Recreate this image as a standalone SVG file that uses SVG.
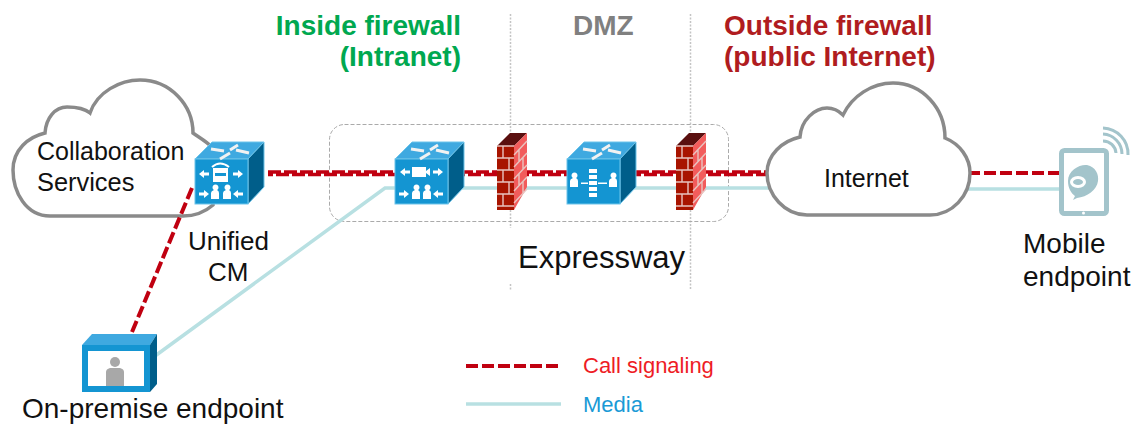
<svg xmlns="http://www.w3.org/2000/svg" width="1136" height="424" viewBox="0 0 1136 424">
<style>
text{font-family:"Liberation Sans",Arial,sans-serif;fill:#111;font-size:26px}
.h{font-weight:bold;font-size:28px}
.cloud{fill:#fff;stroke:#8a8a8a;stroke-width:3.5}
.face{fill:#1495d2;stroke:#6cc4ea;stroke-width:1}
.top{fill:#3fa9e0;stroke:#6cc4ea;stroke-width:1}
.side{fill:#005e8a;stroke:#6cc4ea;stroke-width:1}
.w{fill:#fff}
.wl{stroke:#fff;stroke-width:2;fill:none}
.ta{stroke:#f2f2f2;stroke-width:3;fill:none}
.sig{fill:none;stroke:#c00010;stroke-width:4;stroke-dasharray:12 4}
.med{fill:none;stroke:#b8e0e2;stroke-width:3.5}
.bar{fill:none;stroke:#c00010;stroke-width:3.5;stroke-dasharray:13 3}
.tab{fill:none;stroke:#a3c4cb}
.v{stroke:#c4c4c4;stroke-width:1.5;stroke-dasharray:2 1.5;fill:none}
</style>
<defs>
<g id="cube">
<path class="top" d="M0 17 17 0H69L53 17Z"/>
<path class="side" d="M53 17 69 0V45L53 62Z"/>
<rect class="face" y="17" width="53" height="45"/>
<path class="ta" d="M16 7 29 9M35 8 43 3M41 8 54 11M25 17 35 11"/>
</g>
<g id="wall">
<path fill="#5a0f0f" d="M0 13 13 0H30L17 13Z"/>
<path fill="#f25c5c" d="M17 13 30 0V54L17 77Z"/>
<rect fill="#a81400" y="13" width="17" height="64"/>
<path stroke="#e8c4c0" stroke-width="1.4" fill="none" d="M0 13H17M0 25H17M0 37H17M0 49H17M0 61H17M0 73H17M6 13V25M12 25V37M6 37V49M12 49V61M6 61V73M17 22 30 8M17 34 30 20M17 46 30 32M17 58 30 44M17 70 30 56M22 16V28M26 24V36M22 40V52M26 48V60"/>
</g>
<path id="ar" class="w" d="M0 0 5-4V-1.500H10V1.500H5V4Z"/>
<path id="person" class="w" d="M3 5A3 3 0 1 1 6 5Q8 6 8 8V14H0V8Q0 6 3 5Z"/>
</defs>
<g id="boundaries">
<path class="v" d="M510.500 14V228M510.500 284V290M690.500 14V290"/>
<rect x="329.500" y="124.500" width="399" height="97" rx="15" fill="none" stroke="#aaa" stroke-width="1" stroke-dasharray="4 2"/>
</g>
<g id="connectors">
<path class="med" d="M155 356 385 188H770M968 189H1060"/>
<path class="bar" d="M268 172H770"/>
<path class="bar" stroke-dashoffset="8" d="M268 174.500H770"/>
<path class="sig" d="M968 173H1060"/>
</g>
<g id="collaboration-services">
<path class="cloud" d="M50 216C26 216 13 192 13 170 13 150 28 137 45 133 46 118 55 107 67 107 76 107 84 108 90 113 97 92 120 80 140 80 170 80 193 105 193 133 200 138 206 141 213 148V205C205 212 195 216 183 216Z"/>
<text x="37" y="160" style="font-size:25px">Collaboration</text>
<text x="37" y="191" style="font-size:25.400px">Services</text>
</g>
<g id="unified-cm">
<use href="#cube" x="195" y="142"/>
<use href="#ar" x="199" y="174"/><use href="#ar" transform="translate(243 174) scale(-1 1)"/>
<rect class="w" x="213" y="168" width="15" height="14"/>
<rect x="215" y="173" width="11" height="3" fill="#1495d2"/>
<path class="wl" d="M212 167Q220 160 229 167"/>
<use href="#ar" transform="translate(209 194) scale(-1 1)"/><use href="#ar" x="233" y="194"/>
<use href="#person" x="211" y="185"/><use href="#person" x="223" y="185"/>
<text x="188" y="250">Unified</text>
<text x="208" y="281">CM</text>
</g>
<g id="expressway-c">
<use href="#cube" x="395" y="142"/>
<use href="#ar" x="400" y="172"/><use href="#ar" transform="translate(443 172) scale(-1 1)"/>
<path class="w" d="M412 167H426V171L430 168V176L426 173V177H412Z"/>
<use href="#ar" transform="translate(409 194) scale(-1 1)"/><use href="#ar" x="433" y="194"/>
<use href="#person" x="412" y="185"/><use href="#person" x="423" y="185"/>
</g>
<g id="firewall-inner"><use href="#wall" x="497" y="133"/></g>
<g id="expressway-e">
<use href="#cube" x="567" y="142"/>
<use href="#person" x="570" y="173"/><use href="#person" x="609" y="173"/>
<path class="w" d="M589 169H597V173H589ZM589 175H597V179H589ZM589 181H597V185H589ZM589 187H597V191H589ZM589 193H597V197H589ZM581 182.500H588V184H581ZM598 182.500H607V184H598Z"/>
</g>
<g id="firewall-outer"><use href="#wall" x="676" y="133"/></g>
<g id="internet">
<path class="cloud" d="M807 215C785 215 767 195 767 173 767 155 782 141 800 137 801 120 815 108 827 108 833 108 839 111 843 115 852 96 872 83 893 83 922 83 945 108 945 138 960 144 970 158 970 173 970 196 952 215 930 215Z"/>
<text x="824" y="187" style="font-size:25px">Internet</text>
</g>
<g id="mobile-endpoint">
<rect class="tab" x="1061.500" y="150.500" width="45" height="63" rx="3" stroke-width="5" fill="#fff"/>
<path fill="#a3c4cb" d="M1068 181C1068 170 1080 164 1087 165 1096 167 1099 175 1098 181 1097 190 1087 197 1077 198L1073 200 1075 196C1071 193 1068 188 1068 181Z"/>
<ellipse cx="1078" cy="182" rx="8" ry="6" fill="#fff"/>
<ellipse cx="1078" cy="182" rx="5" ry="3" fill="#a3c4cb"/>
<circle cx="1083.500" cy="213" r="1.500" fill="#fff"/>
<path class="tab" stroke-width="3" d="M1103 141A13 13 0 0 1 1116 153M1103 134A20 20 0 0 1 1122 154M1103 128A26 26 0 0 1 1128 155"/>
<text x="1023" y="253" style="font-size:28px">Mobile</text>
<text x="1023" y="286" style="font-size:28px">endpoint</text>
</g>
<g id="on-premise-endpoint">
<path fill="#3fa9e0" d="M82 345 92 334H157L150 345Z"/>
<path fill="#005e8a" d="M150 345 157 334V384L150 392Z"/>
<rect x="82" y="345" width="68" height="47" fill="#1495d2"/>
<rect x="88" y="351" width="56" height="35" fill="#fff"/>
<circle cx="115" cy="362" r="5" fill="#a8a8a8"/>
<path fill="#a8a8a8" d="M106 386V372Q106 369 110 368H120Q124 369 124 372V386Z"/>
<text x="22" y="418" style="font-size:28px">On-premise endpoint</text>
</g>
<g id="signal-to-on-premise">
<path class="sig" d="M192 188 132 332"/>
</g>
<g id="headings">
<text class="h" x="461" y="35" text-anchor="end" style="fill:#00a850">Inside firewall</text>
<text class="h" x="461" y="66" text-anchor="end" style="fill:#00a850">(Intranet)</text>
<text class="h" x="573" y="35" style="fill:#808080">DMZ</text>
<text class="h" x="724" y="35" style="fill:#b01c20">Outside firewall</text>
<text class="h" x="724" y="66" style="fill:#b01c20">(public Internet)</text>
<text x="518" y="268" style="font-size:31px">Expressway</text>
</g>
<g id="legend">
<path class="sig" d="M466 366H558"/>
<path class="med" d="M466 404H561"/>
<text x="583" y="373" style="font-size:22px;fill:#ee1c25">Call signaling</text>
<text x="583" y="412" style="font-size:22px;fill:#1a9ad6">Media</text>
</g>
</svg>
